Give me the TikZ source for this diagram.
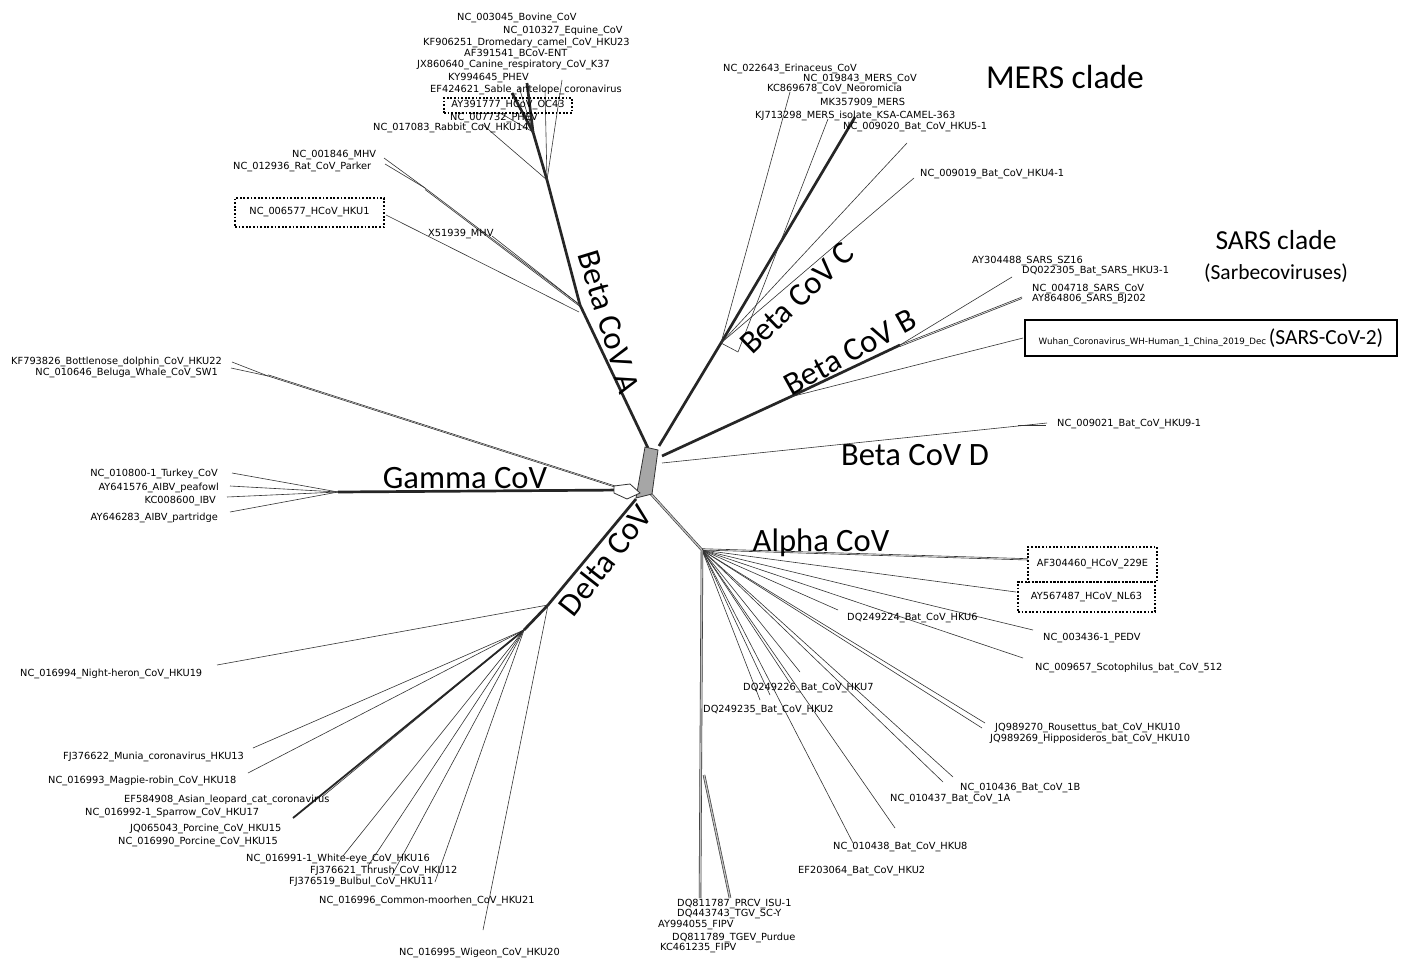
\documentclass[tikz,border=0pt]{standalone}
\usepackage{fontspec}
\newfontfamily\dvfont{DejaVu Sans}
\newfontfamily\calfont{Carlito}
\newcommand\lblfont{\dvfont\fontsize{9.8}{11}\selectfont}
\newcommand\wuhfont{\dvfont\fontsize{8.7}{10}\selectfont}
\newcommand\cladefont{\calfont\fontsize{32.6}{38}\selectfont}
\newcommand\subcladefont{\calfont\fontsize{21.5}{25}\selectfont}
\begin{document}
\begin{tikzpicture}[x=1pt,y=-1pt,
  br/.style={draw=black!80, line width=0.6pt},
  thk/.style={draw=black!85, line width=2.7pt},
  dbl/.style={draw=black!80, double=black!25, double distance=1.3pt, line width=0.6pt},
  lw/.style={font=\lblfont, inner sep=0pt, anchor=base west, yshift=-3.6pt},
  le/.style={font=\lblfont, inner sep=0pt, anchor=base east, yshift=-3.6pt},
  clade/.style={font=\cladefont, inner sep=0pt},
  dbox/.style={draw=black, line width=1.8pt, dash pattern=on 1.8pt off 1.8pt, inner sep=0pt, font=\lblfont},
]
\useasboundingbox[fill=white] (0,0) rectangle (1405,958);

% ---------------- junctions ----------------
\coordinate (hA) at (648,448);
\coordinate (hC) at (659,446);
\coordinate (hB) at (662,456);
\coordinate (hD) at (662,463);
\coordinate (hG) at (624,490);
\coordinate (hDe) at (636,499);
\coordinate (hAl) at (651,494);
\coordinate (a1) at (580,305);
\coordinate (a1b) at (579,312);
\coordinate (a2) at (547,180);
\coordinate (a3) at (533,132);
\coordinate (m1) at (425,188);
\coordinate (c1) at (721,343);
\coordinate (c2) at (738,352);
\coordinate (b0) at (790,397);
\coordinate (b1) at (900,345);
\coordinate (g1) at (338,492);
\coordinate (dol) at (268,376);
\coordinate (d1) at (548,605);
\coordinate (d2) at (524,630);
\coordinate (al1) at (702,550);
\coordinate (al2) at (704,775);
\coordinate (dd) at (1018,425);

% ---------------- tips ----------------
\coordinate (tOC) at (512,93);
\coordinate (tPH) at (527,83);
\coordinate (tBC) at (519,87);
\coordinate (tEq) at (562,80);
\coordinate (tSab) at (545,90);
\coordinate (tRab) at (482,124);
\coordinate (tPH2) at (500,113);
\coordinate (tMHV) at (384,158);
\coordinate (tRat) at (385,164);
\coordinate (tHKU1) at (386,215);
\coordinate (tX5) at (492,236);
\coordinate (tEri) at (790,92);
\coordinate (tMERS1) at (828,119);
\coordinate (tMERS2) at (855,117);
\coordinate (tHKU5) at (907,143);
\coordinate (tHKU4) at (914,178);
\coordinate (tSZ) at (1012,277);
\coordinate (tSARS) at (1022,297);
\coordinate (tWuh) at (1023,338);
\coordinate (tD) at (1047,423);
\coordinate (tD2) at (1046,425);
\coordinate (tDol) at (232,362);
\coordinate (tBel) at (231,368);
\coordinate (tTur) at (232,473);
\coordinate (tPea) at (230,486);
\coordinate (tIBV) at (227,497);
\coordinate (tPar) at (230,512);
\coordinate (tNH) at (217,665);
\coordinate (tWig) at (483,930);
\coordinate (tMun) at (253,748);
\coordinate (tMag) at (248,773);
\coordinate (tLeo) at (322,797);
\coordinate (tSpa) at (293,818);
\coordinate (tWE) at (343,856);
\coordinate (tThr) at (368,866);
\coordinate (tBul) at (392,875);
\coordinate (tBul2) at (435,882);
\coordinate (t229) at (1028,560);
\coordinate (tNL) at (1016,592);
\coordinate (tH6) at (838,610);
\coordinate (tPED) at (1033,630);
\coordinate (tSco) at (1023,658);
\coordinate (tH10a) at (985,723);
\coordinate (tH10b) at (982,728);
\coordinate (t1B) at (953,777);
\coordinate (t1A) at (943,782);
\coordinate (tH8) at (895,828);
\coordinate (tH2b) at (853,843);
\coordinate (tH7a) at (800,672);
\coordinate (tH7b) at (790,683);
\coordinate (tH2a) at (770,695);
\coordinate (tH2c) at (760,700);
\coordinate (tTG1) at (700,898);
\coordinate (tTG2) at (730,898);

% ---------------- Beta A ----------------
\draw[thk] (hA) -- (a1) -- (a2) -- (a3);
\draw[thk] (a3) -- (tOC);
\draw[thk] (a3) -- (tPH);
\draw[br] (a3) -- (tBC);
\draw[br] (a2) -- (tEq);
\draw[br] (a2) -- (tSab);
\draw[br] (a2) -- (tRab);
\draw[br] (a3) -- (tPH2);
\draw[br] (tMHV) -- (m1);
\draw[br] (tRat) -- (m1);
\draw[br] (m1) -- (a1);
\draw[br] ([yshift=-1.5pt]m1) -- ([yshift=-1.5pt]a1);
\draw[br] (tHKU1) -- (a1b);
\draw[br] (tX5) -- (a1);

% ---------------- Beta C ----------------
\draw[thk] (hC) -- (c1) -- (tMERS2);
\draw[br] (c1) -- (tEri);
\draw[br] (c2) -- (tMERS1);
\draw[br] (c1) -- (c2);
\draw[br] (c1) -- (tHKU5);
\draw[br] (c1) -- (tHKU4);

% ---------------- Beta B ----------------
\draw[thk] (hB) -- (b0) -- (b1);
\draw[br] (b1) -- (tSZ);
\draw[br] (b1) -- (tSARS);
\draw[br] ([yshift=-1.5pt]b1) -- ([yshift=-1.5pt]tSARS);
\draw[br] (b0) -- (tWuh);

% ---------------- Beta D ----------------
\draw[br] (hD) -- (tD);
\draw[br] (dd) -- (tD2);

% ---------------- Gamma ----------------
\draw[thk] (hG) -- (g1);
\draw[br] (g1) -- (tTur);
\draw[br] (g1) -- (tPea);
\draw[br] (g1) -- (tIBV);
\draw[br] (g1) -- (tPar);
\draw[br] (tDol) -- (dol);
\draw[br] (tBel) -- (dol);
\draw[br] (dol) -- (hG);
\draw[br] ([yshift=1.2pt]dol) -- ([yshift=1.2pt]hG);

% ---------------- Delta ----------------
\draw[thk] (hDe) -- (d1) -- (d2);
\draw[br] (d1) -- (tNH);
\draw[br] (d1) -- (tWig);
\draw[br] (d2) -- (tMun);
\draw[br] (d2) -- (tMag);
\draw[br] (d2) -- (tLeo);
\draw[thk, line width=1.8pt] (d2) -- (tSpa);
\draw[br] (d2) -- (tWE);
\draw[br] (d2) -- (tThr);
\draw[br] (d2) -- (tBul);
\draw[br] (d2) -- (tBul2);

% ---------------- Alpha ----------------
\draw[dbl] (hAl) -- (al1);
\draw[br] (al1) -- (t229);
\draw[br] ([yshift=1.3pt]al1) -- ([yshift=1.3pt]t229);
\draw[br] (al1) -- (tNL);
\draw[br] (al1) -- (tH6);
\draw[br] (al1) -- (tPED);
\draw[br] (al1) -- (tSco);
\draw[br] (al1) -- (tH10a);
\draw[br] (al1) -- (tH10b);
\draw[br] (al1) -- (t1B);
\draw[br] (al1) -- (t1A);
\draw[br] (al1) -- (tH8);
\draw[br] (al1) -- (tH2b);
\draw[br] (al1) -- (tH7a);
\draw[br] (al1) -- (tH7b);
\draw[br] (al1) -- (tH2a);
\draw[br] (al1) -- (tH2c);
\draw[dbl] (al1) -- (tTG1);
\draw[dbl] (al2) -- (tTG2);

% ---------------- hub ----------------
\draw[fill=black!35, draw=black!80, line width=0.8pt] (645,447) -- (658,450) -- (652,494) -- (636,498) -- cycle;
\draw[fill=white, draw=black!80, line width=0.8pt] (614,486) -- (630,484) -- (640,493) -- (627,499) -- (614,493) -- cycle;

% ---------------- labels: Beta A ----------------
\node[lw] (lBov) at (457,17) {NC\_003045\_Bovine\_CoV};
\node[lw] (lEqu) at (503,30) {NC\_010327\_Equine\_CoV};
\node[lw] (lDro) at (423,42) {KF906251\_Dromedary\_camel\_CoV\_HKU23};
\node[lw] (lBCo) at (464,53) {AF391541\_BCoV-ENT};
\node[lw] (lCan) at (417,64) {JX860640\_Canine\_respiratory\_CoV\_K37};
\node[lw] (lKY) at (448,77) {KY994645\_PHEV};
\node[lw] (lSab) at (430,89) {EF424621\_Sable\_antelope\_coronavirus};
\node[dbox, minimum width=128pt, minimum height=15pt] (lOC) at (508,105.5) {AY391777\_HCoV\_OC43};
\node[lw] (lPH2) at (450,117) {NC\_007732\_PHEV};
\node[lw] (lRab) at (373,127) {NC\_017083\_Rabbit\_CoV\_HKU14};
\node[lw] (lMHV) at (292,154) {NC\_001846\_MHV};
\node[lw] (lRat) at (233,166) {NC\_012936\_Rat\_CoV\_Parker};
\node[dbox, minimum width=149pt, minimum height=29pt] (lHKU1) at (309.5,212.5) {NC\_006577\_HCoV\_HKU1};
\node[lw] (lX5) at (428,233) {X51939\_MHV};

% ---------------- labels: MERS ----------------
\node[lw] (lEri) at (723,68) {NC\_022643\_Erinaceus\_CoV};
\node[lw] (lMER1) at (803,78) {NC\_019843\_MERS\_CoV};
\node[lw] (lNeo) at (767,88) {KC869678\_CoV\_Neoromicia};
\node[lw] (lMK) at (820,102) {MK357909\_MERS};
\node[lw] (lKJ) at (755,115) {KJ713298\_MERS\_isolate\_KSA-CAMEL-363};
\node[lw] (lH5) at (843,126) {NC\_009020\_Bat\_CoV\_HKU5-1};
\node[lw] (lH4) at (920,173) {NC\_009019\_Bat\_CoV\_HKU4-1};

% ---------------- labels: SARS ----------------
\node[lw] (lSZ) at (972,260) {AY304488\_SARS\_SZ16};
\node[lw] (lHK3) at (1022,270) {DQ022305\_Bat\_SARS\_HKU3-1};
\node[lw] (lSC) at (1032,288) {NC\_004718\_SARS\_CoV};
\node[lw] (lBJ) at (1032,298) {AY864806\_SARS\_BJ202};
\node[draw=black, line width=1.6pt, minimum width=372pt, minimum height=36pt, inner sep=0pt] (lWuh) at (1211,338)
  {\wuhfont Wuhan\_Coronavirus\_WH-Human\_1\_China\_2019\_Dec\ {\subcladefont (SARS-CoV-2)}};
\node[lw] (lH9) at (1057,423) {NC\_009021\_Bat\_CoV\_HKU9-1};

% ---------------- labels: Gamma ----------------
\node[le] (lDol) at (222,361) {KF793826\_Bottlenose\_dolphin\_CoV\_HKU22};
\node[le] (lBel) at (218,372) {NC\_010646\_Beluga\_Whale\_CoV\_SW1};
\node[le] (lTur) at (218,473) {NC\_010800-1\_Turkey\_CoV};
\node[le] (lPea) at (219,487) {AY641576\_AIBV\_peafowl};
\node[le] (lIBV) at (216,500) {KC008600\_IBV};
\node[le] (lPar) at (218,517) {AY646283\_AIBV\_partridge};

% ---------------- labels: Delta ----------------
\node[lw] (lNH) at (20,673) {NC\_016994\_Night-heron\_CoV\_HKU19};
\node[lw] (lMun) at (63,756) {FJ376622\_Munia\_coronavirus\_HKU13};
\node[lw] (lMag) at (48,780) {NC\_016993\_Magpie-robin\_CoV\_HKU18};
\node[lw] (lLeo) at (124,799) {EF584908\_Asian\_leopard\_cat\_coronavirus};
\node[lw] (lSpa) at (85,812) {NC\_016992-1\_Sparrow\_CoV\_HKU17};
\node[lw] (lPo1) at (130,828) {JQ065043\_Porcine\_CoV\_HKU15};
\node[lw] (lPo2) at (118,841) {NC\_016990\_Porcine\_CoV\_HKU15};
\node[lw] (lWE) at (246,858) {NC\_016991-1\_White-eye\_CoV\_HKU16};
\node[lw] (lThr) at (310,870) {FJ376621\_Thrush\_CoV\_HKU12};
\node[lw] (lBul) at (289,881) {FJ376519\_Bulbul\_CoV\_HKU11};
\node[lw] (lMoo) at (319,900) {NC\_016996\_Common-moorhen\_CoV\_HKU21};
\node[lw] (lWig) at (399,952) {NC\_016995\_Wigeon\_CoV\_HKU20};

% ---------------- labels: Alpha ----------------
\node[dbox, minimum width=129pt, minimum height=35pt] (l229) at (1092.5,564.5) {AF304460\_HCoV\_229E};
\node[dbox, minimum width=137pt, minimum height=30pt] (lNL) at (1086.5,597) {AY567487\_HCoV\_NL63};
\node[lw] (lH6) at (847,617) {DQ249224\_Bat\_CoV\_HKU6};
\node[lw] (lPED) at (1043,637) {NC\_003436-1\_PEDV};
\node[lw] (lSco) at (1035,667) {NC\_009657\_Scotophilus\_bat\_CoV\_512};
\node[lw] (lH7) at (743,687) {DQ249226\_Bat\_CoV\_HKU7};
\node[lw] (lH2a) at (703,709) {DQ249235\_Bat\_CoV\_HKU2};
\node[lw] (lH10a) at (995,727) {JQ989270\_Rousettus\_bat\_CoV\_HKU10};
\node[lw] (lH10b) at (990,738) {JQ989269\_Hipposideros\_bat\_CoV\_HKU10};
\node[lw] (l1B) at (960,787) {NC\_010436\_Bat\_CoV\_1B};
\node[lw] (l1A) at (890,798) {NC\_010437\_Bat\_CoV\_1A};
\node[lw] (lH8) at (833,846) {NC\_010438\_Bat\_CoV\_HKU8};
\node[lw] (lH2b) at (798,870) {EF203064\_Bat\_CoV\_HKU2};
\node[lw] (lPR) at (677,903) {DQ811787\_PRCV\_ISU-1};
\node[lw] (lTGV) at (677,913) {DQ443743\_TGV\_SC-Y};
\node[lw] (lFI1) at (658,924) {AY994055\_FIPV};
\node[lw] (lTGE) at (672,937) {DQ811789\_TGEV\_Purdue};
\node[lw] (lFI2) at (660,947) {KC461235\_FIPV};

% ---------------- clade labels ----------------
\node[clade, rotate=-73] (cA) at (609,322) {Beta CoV A};
\node[clade, rotate=44] (cC) at (797,298) {Beta CoV C};
\node[clade, rotate=29] (cB) at (850,352) {Beta CoV B};
\node[clade] (cD) at (915,455) {Beta CoV D};
\node[clade] (cG) at (465,478) {Gamma CoV};
\node[clade, rotate=52] (cDe) at (605,560) {Delta CoV};
\node[clade] (cAl) at (821,543) {Alpha CoV};
\node[clade, font=\calfont\fontsize{33.5}{38}\selectfont] (cM) at (1065,77) {MERS clade};
\node[clade, font=\calfont\fontsize{27.5}{32}\selectfont] (cS) at (1276,240) {SARS clade};
\node[font=\subcladefont, inner sep=0pt] (cSb) at (1276,273) {(Sarbecoviruses)};
\end{tikzpicture}
\end{document}
